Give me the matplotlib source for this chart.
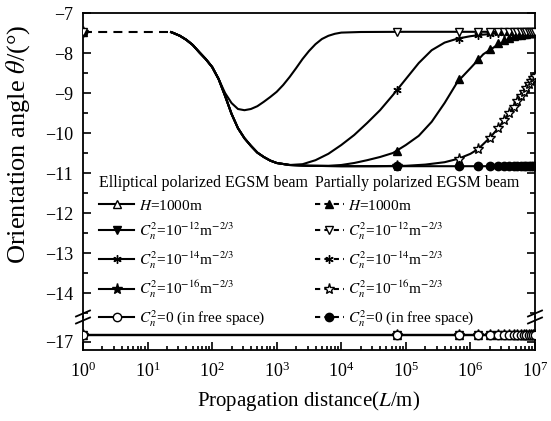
import numpy as np
import matplotlib.pyplot as plt
from matplotlib.lines import Line2D
from matplotlib.ticker import MultipleLocator, LogLocator, LogFormatterMathtext, NullFormatter

plt.rcParams['font.family'] = 'Liberation Serif'
plt.rcParams['mathtext.fontset'] = 'stix'

# --- values (x given as log10(L/m)) ---
# shared start of the partially polarized curves
start_x = [1.35, 1.4, 1.5, 1.6, 1.7, 1.8, 1.9, 2.0, 2.1]
start_y = [-7.47, -7.5, -7.57, -7.67, -7.8, -7.98, -8.15, -8.35, -8.65]
# common descent to the free space value
fall_x = [2.2, 2.3, 2.4, 2.5, 2.6, 2.7, 2.8, 2.9, 3.0, 3.2]
fall_y = [-9.07, -9.52, -9.88, -10.13, -10.32, -10.49, -10.6, -10.69, -10.75, -10.8]

# C_n^2 = 1e-12 (dip and recovery)
c12_x = [2.2, 2.3, 2.4, 2.5, 2.6, 2.7, 2.8, 2.9, 3.0, 3.1, 3.2, 3.3, 3.4, 3.5,
         3.6, 3.7, 3.8, 3.9, 4.0, 4.3, 5.0, 6.0, 7.0]
c12_y = [-9.0, -9.25, -9.4, -9.43, -9.4, -9.33, -9.22, -9.1, -8.97, -8.8, -8.6,
         -8.38, -8.15, -7.95, -7.78, -7.65, -7.57, -7.52, -7.49, -7.475, -7.47,
         -7.47, -7.47]
# C_n^2 = 1e-14
c14_x = [3.4, 3.6, 3.8, 4.0, 4.2, 4.4, 4.6, 4.8, 5.0, 5.2, 5.4, 5.6, 5.8, 6.0,
         6.2, 6.5, 7.0]
c14_y = [-10.78, -10.68, -10.52, -10.3, -10.05, -9.75, -9.43, -9.05, -8.65,
         -8.25, -7.93, -7.74, -7.64, -7.58, -7.54, -7.5, -7.48]
# H = 1000 m
h_x = [3.5, 3.8, 4.0, 4.2, 4.4, 4.6, 4.8, 5.0, 5.2, 5.4, 5.6, 5.8, 6.0, 6.2,
       6.4, 6.6, 6.8, 7.0]
h_y = [-10.82, -10.82, -10.8, -10.75, -10.68, -10.6, -10.5, -10.3, -10.07,
       -9.72, -9.25, -8.72, -8.38, -8.03, -7.82, -7.65, -7.56, -7.5]
# C_n^2 = 1e-16
c16_x = [3.5, 4.0, 4.5, 5.0, 5.3, 5.6, 5.82, 6.0, 6.12, 6.3, 6.43, 6.52, 6.6,
         6.67, 6.73, 6.78, 6.82, 6.86, 6.9, 6.94, 6.97, 7.0]
c16_y = [-10.82, -10.83, -10.83, -10.82, -10.79, -10.73, -10.64, -10.52, -10.4,
         -10.12, -9.88, -9.68, -9.5, -9.35, -9.2, -9.08, -8.97, -8.87, -8.78,
         -8.7, -8.63, -8.58]
# free space
c0_x = [3.5, 4.0, 7.0]
c0_y = [-10.82, -10.83, -10.83]

# dashed lead-in at small distances
lead_x = [0.0, 1.35]
lead_y = [-7.47, -7.47]

# marker positions (L in m) and values at them
mark_L = [1, 7.2e4, 6.6e5, 1.33e6, 2.0e6, 2.67e6, 3.33e6, 4.0e6, 4.67e6,
          5.33e6, 6.0e6, 6.67e6, 7.33e6, 8.0e6, 8.67e6, 9.33e6, 1.0e7]
m_c12 = [-7.47] * 17
m_c14 = [-7.47, -8.93, -7.64, -7.56, -7.52, -7.51, -7.5, -7.5, -7.49, -7.49,
         -7.49, -7.48, -7.48, -7.48, -7.48, -7.48, -7.48]
m_h = [-7.47, -10.45, -8.65, -8.15, -7.9, -7.76, -7.68, -7.62, -7.58, -7.56,
       -7.54, -7.53, -7.52, -7.51, -7.5, -7.5, -7.5]
m_c16 = [-7.47, -10.83, -10.64, -10.4, -10.12, -9.88, -9.68, -9.5, -9.35,
         -9.2, -9.08, -8.97, -8.87, -8.78, -8.7, -8.63, -8.58]
m_c0 = [-7.47] + [-10.83] * 16

# elliptical polarized beam: constant orientation angle
ell_x = [0.0, 7.0]
ell_y = [-16.83, -16.83]
m_ell = [-16.83] * 17

labels_ell = [r'$H$=1000m', r'$C_n^2$=10$^{-12}$m$^{-2/3}$',
              r'$C_n^2$=10$^{-14}$m$^{-2/3}$', r'$C_n^2$=10$^{-16}$m$^{-2/3}$',
              r'$C_n^2$=0 (in free space)']

# marker styles: (marker, face colour)
star6 = (6, 2, 0)
sty_ell = [('^', 'white'), ('v', 'black'), (star6, 'black'), ('*', 'black'), ('o', 'white')]
sty_par = [('^', 'black'), ('v', 'white'), (star6, 'black'), ('*', 'white'), ('o', 'black')]

fig = plt.figure(figsize=(5.51, 4.21), dpi=100)
W, H = 551, 421
ax = fig.add_axes([83 / W, 1 - 317 / H, 452 / W, 304 / H])
axb = fig.add_axes([83 / W, 1 - 350 / H, 452 / W, 33 / H], sharex=ax)
ax.set_zorder(3)
ax.patch.set_visible(False)

ms = 6
lw = 1.5
dash = (0, (4.3, 3))


def curve(a, xs, ys, ls='-'):
    a.plot(10 ** np.array(xs), ys, color='black', lw=lw, ls=ls, solid_capstyle='butt')


def marks(a, ys, style, z=3):
    m, fc = style
    a.plot(mark_L, ys, ls='none', marker=m, ms=ms if m != '*' else ms + 2,
           mfc=fc, mec='black', mew=1.0, zorder=z)


# --- upper panel: partially polarized beam ---
curve(ax, lead_x, lead_y, ls=dash)
curve(ax, start_x + c12_x, start_y + c12_y)
curve(ax, start_x + fall_x + c14_x, start_y + fall_y + c14_y)
curve(ax, start_x + fall_x + h_x, start_y + fall_y + h_y)
curve(ax, start_x + fall_x + c16_x, start_y + fall_y + c16_y)
curve(ax, start_x + fall_x + c0_x, start_y + fall_y + c0_y)
marks(ax, m_c16, sty_par[3], 3)
marks(ax, m_c0, sty_par[4], 4)
marks(ax, m_h, sty_par[0], 4)
marks(ax, m_c14, sty_par[2], 4)
marks(ax, m_c12, sty_par[1], 5)

# --- lower panel: elliptical polarized beam ---
for i, st in enumerate(sty_ell):
    curve(axb, ell_x, ell_y)
    marks(axb, m_ell, st, 3 + i)

ax.set_xscale('log')
ax.set_xlim(1, 1e7)
ax.set_ylim(-14.6, -7)
axb.set_ylim(-17.2, -16.375)

ax.yaxis.set_major_locator(MultipleLocator(1))
ax.yaxis.set_minor_locator(MultipleLocator(0.5))
axb.set_yticks([-17])
axb.xaxis.set_major_locator(LogLocator(base=10, numticks=10))
axb.xaxis.set_minor_locator(LogLocator(base=10, subs=np.arange(2, 10), numticks=20))
axb.xaxis.set_major_formatter(LogFormatterMathtext())
axb.xaxis.set_minor_formatter(NullFormatter())

for a in (ax, axb):
    for s in a.spines.values():
        s.set_linewidth(1.3)
    a.tick_params(axis='y', which='both', direction='in', left=True, right=True,
                  labelsize=13, width=1.2, pad=7)
    a.tick_params(axis='y', which='major', length=6)
    a.tick_params(axis='y', which='minor', length=3.5)
ax.spines['bottom'].set_visible(False)
axb.spines['top'].set_visible(False)
ax.tick_params(axis='x', which='both', bottom=False, top=False, labelbottom=False)
axb.tick_params(axis='x', which='both', direction='in', top=False, labelsize=13,
                width=1.2, pad=8)
axb.tick_params(axis='x', which='major', length=6)
axb.tick_params(axis='x', which='minor', length=3)

axb.set_xlabel(r'Propagation distance($L$/m)', fontsize=15, labelpad=6)
fig.text(18 / W, 1 - 144 / H, r'Orientation angle $\theta$/(°)',
         rotation=90, fontsize=19, ha='center', va='center')

# axis break marks
for xb in (83, 535):
    for dy in (-3.5, 3.5):
        fig.add_artist(Line2D([(xb - 7) / W, (xb + 7) / W],
                              [1 - (317 + dy + 3) / H, 1 - (317 + dy - 3) / H],
                              color='black', lw=1.3))

# legends
def handles(styles, ls):
    out = []
    for m, fc in styles:
        out.append(Line2D([], [], color='black', lw=lw, ls=ls, marker=m,
                          ms=ms if m != '*' else ms + 2, mfc=fc, mec='black', mew=1.0))
    return out


leg_kw = dict(loc='upper left', frameon=False, fontsize=11, title_fontsize=11.5,
              alignment='left', handletextpad=0.3,
              labelspacing=0.5, borderpad=0, borderaxespad=0)
leg1 = ax.legend(handles(sty_ell, '-'), labels_ell, title='Elliptical polarized EGSM beam',
                 bbox_to_anchor=(0.036, 0.467), handlelength=2.3, **leg_kw)
ax.add_artist(leg1)
ax.legend(handles(sty_par, (0, (2.5, 2))), labels_ell, title='Partially polarized EGSM beam',
          bbox_to_anchor=(0.513, 0.467), handlelength=1.9, **leg_kw)

fig.savefig('out.png', dpi=100)
